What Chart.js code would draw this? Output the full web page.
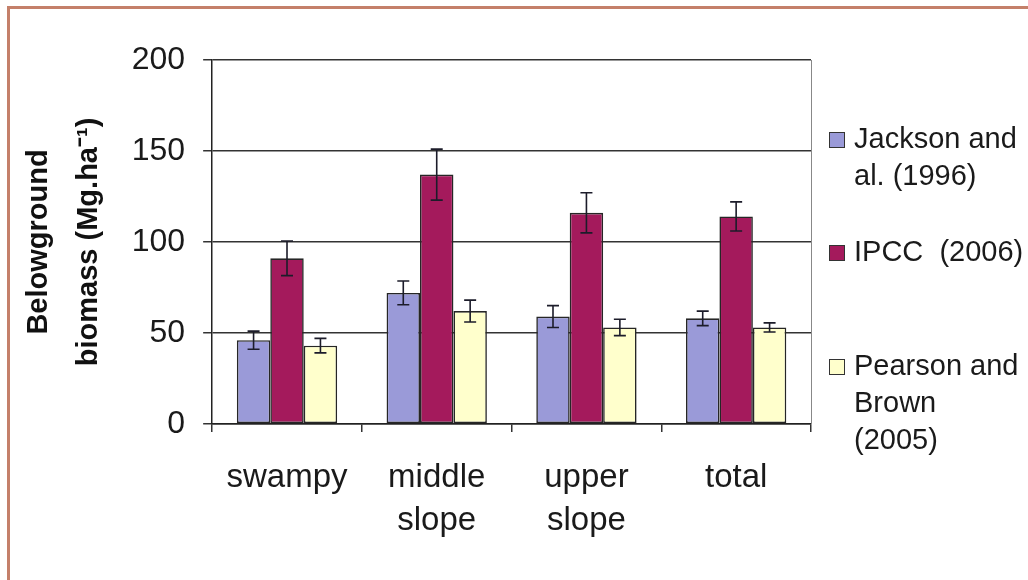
<!DOCTYPE html>
<html>
<head>
<meta charset="utf-8">
<script src="https://cdn.jsdelivr.net/npm/chart.js@4.4.1/dist/chart.umd.min.js"></script>
<style>
  html, body { margin: 0; padding: 0; background: #fff; }
  #wrap { position: relative; width: 1028px; height: 580px; overflow: hidden; }
  #marco { position: absolute; left: 7px; top: 6px; width: 1100px; height: 700px;
           border-top: 3px solid #c4806a; border-left: 3px solid #c4806a; }
  #grafico { position: absolute; left: 0; top: 0; }
</style>
</head>
<body>
<div id="wrap">
  <div id="marco"></div>
  <canvas id="grafico" width="1028" height="580"></canvas>
</div>
<script>
// datos
const categorias = ['swampy', ['middle', 'slope'], ['upper', 'slope'], 'total'];
const series = ['Jackson and al. (1996)', 'IPCC  (2006)', 'Pearson and Brown (2005)'];
const leyenda = [['Jackson and', 'al. (1996)'], ['IPCC  (2006)'], ['Pearson and', 'Brown', '(2005)']];

const jackson = [46, 72, 59, 58];
const jacksonErr = [5, 6.5, 6, 4];
const ipcc = [91, 137, 116, 114];
const ipccErr = [9.5, 14, 11, 8];
const pearson = [43, 62, 53, 53];
const pearsonErr = [4, 6, 4.5, 2.5];

const ticksY = [0, 50, 100, 150, 200];

const colores = ['#9a9ad8', '#a41a5c', '#ffffcc'];
const errores = [jacksonErr, ipccErr, pearsonErr];

const fuente = "'Liberation Sans', Arial, sans-serif";
const ctx = document.getElementById('grafico').getContext('2d');

// barras de error + borde derecho del area
const barrasError = {
    id: 'barrasError',
    afterDatasetsDraw(chart) {
    const c = chart.ctx;
    const y = chart.scales.y;
    const area = chart.chartArea;
    c.save();
    c.strokeStyle = '#888';
    c.lineWidth = 1;
    c.beginPath();
    c.moveTo(area.right + 0.5, area.top);
    c.lineTo(area.right + 0.5, area.bottom);
    c.stroke();

    c.strokeStyle = '#1c1c2a';
    c.lineWidth = 1.6;
    chart.data.datasets.forEach((ds, i) => {
        const meta = chart.getDatasetMeta(i);
        meta.data.forEach((bar, j) => {
        const v = ds.data[j];
        const e = errores[i][j];
        const yTop = y.getPixelForValue(v + e);
        const yBot = y.getPixelForValue(v - e);
        c.beginPath();
        c.moveTo(bar.x, yTop); c.lineTo(bar.x, yBot);
        c.moveTo(bar.x - 6, yTop); c.lineTo(bar.x + 6, yTop);
        c.moveTo(bar.x - 6, yBot); c.lineTo(bar.x + 6, yBot);
        c.stroke();
        });
    });
    c.restore();
    }
};

// leyenda a la derecha con lineas multiples
const leyendaDerecha = {
    id: 'leyendaDerecha',
    afterDraw(chart) {
    const c = chart.ctx;
    const posY = [140, 253, 367];
    c.save();
    c.font = '29px ' + fuente;
    c.textBaseline = 'middle';
    leyenda.forEach((lineas, i) => {
        c.fillStyle = colores[i];
        c.fillRect(829, posY[i] - 8, 16, 16);
        c.strokeStyle = '#333';
        c.lineWidth = 1;
        c.strokeRect(829.5, posY[i] - 7.5, 15, 15);
        c.fillStyle = '#1a1a1a';
        lineas.forEach((t, k) => c.fillText(t, 854, posY[i] + k * 37));
    });
    c.restore();
    }
};

new Chart(ctx, {
    type: 'bar',
    data: {
    labels: categorias,
    datasets: series.map((s, i) => ({
        label: s,
        data: [jackson, ipcc, pearson][i],
        backgroundColor: colores[i],
        borderColor: '#262626',
        borderWidth: 1.6,
        borderSkipped: false,
        categoryPercentage: 0.67,
        barPercentage: 1.0
    }))
    },
    options: {
    responsive: false,
    devicePixelRatio: 1,
    animation: false,
    layout: { padding: { left: 0, top: 60, right: 217, bottom: 13 } },
    plugins: { legend: { display: false }, tooltip: { enabled: false } },
    scales: {
        x: {
        grid: { offset: true, drawOnChartArea: false, drawTicks: true, tickLength: 8, color: '#333', lineWidth: 1.5 },
        border: { display: true, color: '#222', width: 1.5 },
        ticks: { color: '#1a1a1a', padding: 24, font: { family: fuente, size: 33, lineHeight: 1.32 } }
        },
        y: {
        min: 0,
        max: 200,
        afterBuildTicks: (eje) => { eje.ticks = ticksY.map(v => ({ value: v })); },
        grid: { color: '#333', lineWidth: 1.5, tickLength: 9 },
        border: { display: true, color: '#222', width: 1.5 },
        ticks: { color: '#1a1a1a', padding: 18, font: { family: fuente, size: 32 } },
        title: {
            display: true,
            text: ['Belowground', 'biomass (Mg.ha\u207B\u00B9)'],
            color: '#111',
            padding: { top: 14, bottom: 0 },
            font: { family: fuente, size: 29, weight: 'bold', lineHeight: 1.72 }
        }
        }
    }
    },
    plugins: [barrasError, leyendaDerecha]
});
</script>
</body>
</html>
